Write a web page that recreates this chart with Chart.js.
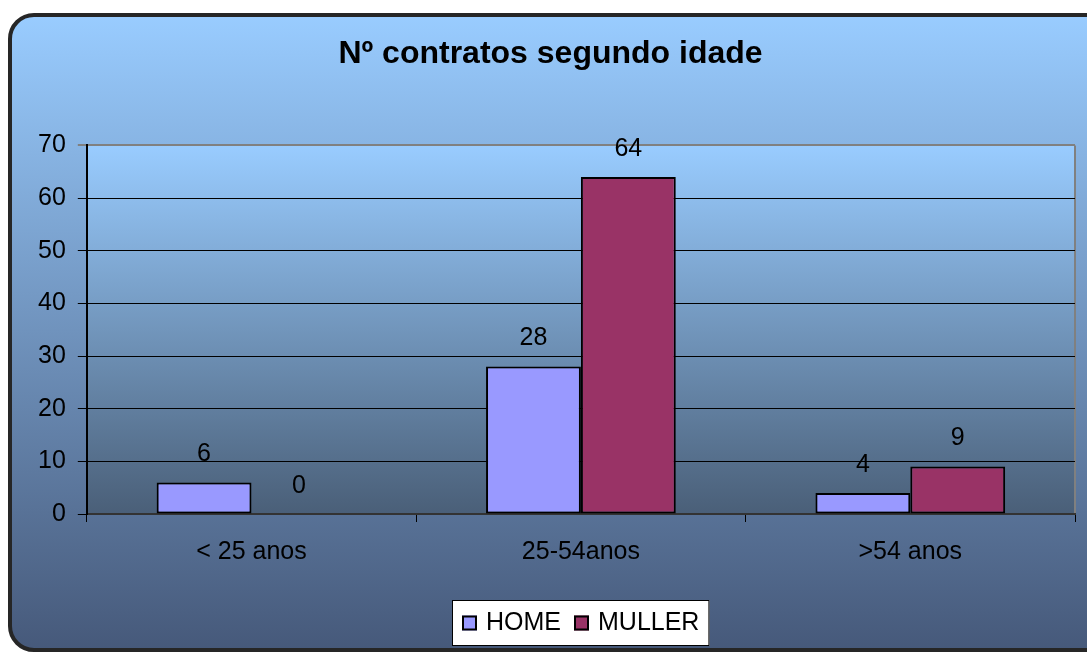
<!DOCTYPE html>
<html>
<head>
<meta charset="utf-8">
<title>Nº contratos segundo idade</title>
<script src="https://cdn.jsdelivr.net/npm/chart.js@4.4.0/dist/chart.umd.min.js"></script>
<style>
    html, body { margin: 0; padding: 0; background: #fff; }
    #wrap { width: 1087px; height: 653px; }
</style>
</head>
<body>
<div id="wrap"><canvas id="ageChart" width="1087" height="653"></canvas></div>
<script>
// Contracts by age group, two series
const categories = ['< 25 anos', '25-54anos', '>54 anos'];
const homeValues = [6, 28, 4];
const mullerValues = [0, 64, 9];
const yMin = 0;
const yMax = 70;
const yStep = 10;

const FONT = '"Liberation Sans", Arial, sans-serif';
Chart.defaults.font.family = FONT;
Chart.defaults.color = '#000';

// panel background, plot area fill, value labels and boxed legend
const backdrop = {
    id: 'backdrop',
    beforeDraw(chart) {
        const ctx = chart.ctx;
        const a = chart.chartArea;
        ctx.save();

        const g = ctx.createLinearGradient(0, 15, 0, 650);
        g.addColorStop(0, '#99ccff');
        g.addColorStop(1, '#46597a');
        ctx.beginPath();
        ctx.roundRect(10, 15, 1100, 635, 24);
        ctx.fillStyle = g;
        ctx.fill();
        ctx.lineWidth = 4;
        ctx.strokeStyle = '#262626';
        ctx.stroke();

        const pg = ctx.createLinearGradient(0, a.top, 0, a.bottom);
        pg.addColorStop(0, '#99ccff');
        pg.addColorStop(1, '#4a5f78');
        ctx.fillStyle = pg;
        ctx.fillRect(a.left, a.top, a.right - a.left, a.bottom - a.top);

        ctx.strokeStyle = '#808080';
        ctx.lineWidth = 2;
        ctx.beginPath();
        ctx.moveTo(a.right, a.top);
        ctx.lineTo(a.right, a.bottom);
        ctx.stroke();
        ctx.restore();
    },
    afterDatasetsDraw(chart) {
        const ctx = chart.ctx;
        ctx.save();
        ctx.font = '25px ' + FONT;
        ctx.fillStyle = '#000';
        ctx.textAlign = 'center';
        ctx.textBaseline = 'middle';
        chart.data.datasets.forEach((ds, i) => {
            chart.getDatasetMeta(i).data.forEach((bar, j) => {
                ctx.fillText(String(ds.data[j]), bar.x, bar.y - 28);
            });
        });
        ctx.restore();
    },
    afterDraw(chart) {
        // legend in a white box, centred under the plot area
        const ctx = chart.ctx;
        const a = chart.chartArea;
        const sets = chart.data.datasets;
        const marker = 15, gapText = 9, gapItem = 13, padX = 10, boxH = 46;
        ctx.save();
        ctx.font = '25px ' + FONT;
        const widths = sets.map(ds => ctx.measureText(ds.label).width);
        let inner = 0;
        widths.forEach((w, i) => { inner += marker + gapText + w + (i ? gapItem : 0); });
        const boxW = inner + padX * 2;
        const left = Math.round((a.left + a.right) / 2 - boxW / 2);
        const top = chart.height - 53;
        ctx.fillStyle = '#fff';
        ctx.fillRect(left, top, boxW, boxH);
        ctx.strokeStyle = '#000';
        ctx.lineWidth = 1;
        ctx.strokeRect(left + 0.5, top + 0.5, boxW - 1, boxH - 1);

        const cy = top + boxH / 2;
        let x = left + padX;
        ctx.textAlign = 'left';
        ctx.textBaseline = 'middle';
        sets.forEach((ds, i) => {
            if (i) x += gapItem;
            ctx.fillStyle = ds.backgroundColor;
            ctx.fillRect(x, cy - marker / 2, marker, marker);
            ctx.strokeStyle = '#000';
            ctx.lineWidth = 2;
            ctx.strokeRect(x + 1, cy - marker / 2 + 1, marker - 2, marker - 2);
            x += marker + gapText;
            ctx.fillStyle = '#000';
            ctx.fillText(ds.label, x, cy);
            x += widths[i];
        });
        ctx.restore();
    }
};

const ctx = document.getElementById('ageChart').getContext('2d');

new Chart(ctx, {
    type: 'bar',
    data: {
        labels: categories,
        datasets: [
            {
                label: 'HOME',
                data: homeValues,
                backgroundColor: '#9999ff',
                borderColor: '#000',
                borderWidth: 2,
                borderSkipped: false,
            },
            {
                label: 'MULLER',
                data: mullerValues,
                backgroundColor: '#993366',
                borderColor: '#000',
                borderWidth: 2,
                borderSkipped: false,
            }
        ]
    },
    options: {
        responsive: false,
        animation: false,
        categoryPercentage: 0.576,
        barPercentage: 1.0,
        layout: {
            padding: { left: 26, right: 12, top: 20, bottom: 53 }
        },
        scales: {
            x: {
                grid: {
                    offset: true,
                    drawOnChartArea: false,
                    tickLength: 8,
                    color: '#000',
                },
                border: { color: '#333', width: 2 },
                ticks: {
                    font: { size: 25 },
                    color: '#000',
                    padding: 15,
                },
                afterFit(scale) {
                    scale.height += 18;
                }
            },
            y: {
                min: yMin,
                max: yMax,
                ticks: {
                    stepSize: yStep,
                    font: { size: 25 },
                    color: '#000',
                    padding: 12,
                },
                grid: {
                    color: c => (c.tick && c.tick.value === yMax) ? '#808080' : '#000',
                    lineWidth: c => (c.tick && c.tick.value === yMax) ? 2 : 1,
                    tickLength: 9,
                },
                border: { color: '#000', width: 2 }
            }
        },
        plugins: {
            title: {
                display: true,
                text: 'Nº contratos segundo idade',
                color: '#000',
                font: { size: 32, weight: 'bold' },
                padding: { top: 15, bottom: 72 }
            },
            legend: { display: false },
            tooltip: { enabled: false }
        }
    },
    plugins: [backdrop]
});
</script>
</body>
</html>
